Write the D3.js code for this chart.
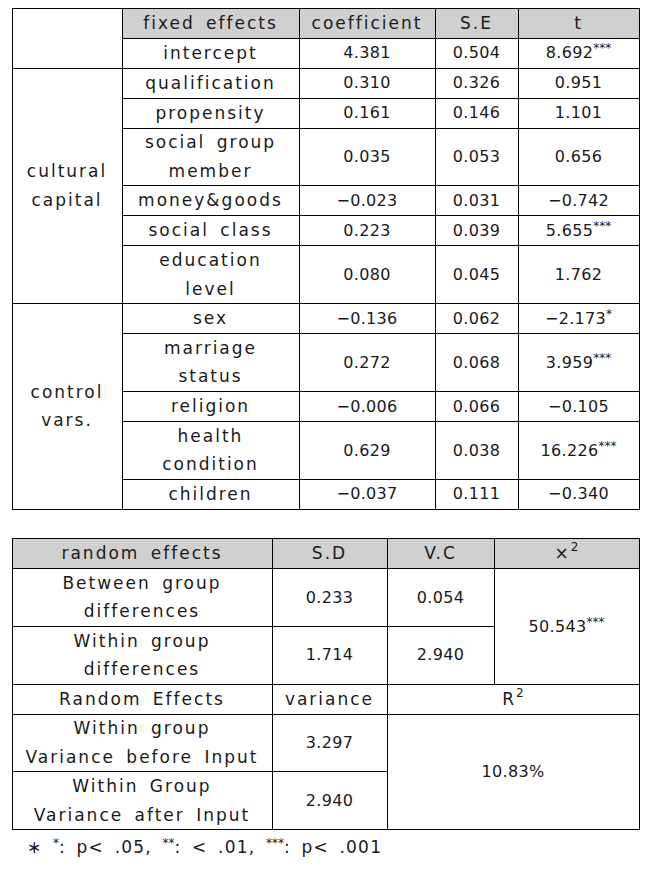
<!DOCTYPE html>
<html>
<head>
<meta charset="utf-8">
<script src="https://cdn.jsdelivr.net/npm/d3@7"></script>
<style>
    body { margin: 0; background: #fff; }
    svg text { font-family: "DejaVu Sans", sans-serif; fill: #1a1a1a; }
    .label { font-size: 17px; letter-spacing: 2px; word-spacing: 4px; }
    .num { font-size: 16px; letter-spacing: 0.3px; }
    .note { font-size: 17px; letter-spacing: 1.2px; word-spacing: 4px; }
    .sup { font-size: 12px; letter-spacing: 0; }
    .cell { fill: #fff; stroke: #000; stroke-width: 1; }
    .cell.head { fill: #d0d0d0; }
</style>
</head>
<body>
<script>
// ------------------------------------------
//  Data
// ------------------------------------------
const fixedHeaders = ["fixed effects", "coefficient", "S.E", "t"]
const fixedTerms = ["intercept", "qualification", "propensity", "social group\nmember", "money&goods",
    "social class", "education\nlevel", "sex", "marriage\nstatus", "religion", "health\ncondition", "children"]
const coefficients = [4.381, 0.310, 0.161, 0.035, -0.023, 0.223, 0.080, -0.136, 0.272, -0.006, 0.629, -0.037]
const stdErrors = [0.504, 0.326, 0.146, 0.053, 0.031, 0.039, 0.045, 0.062, 0.068, 0.066, 0.038, 0.111]
const tValues = [8.692, 0.951, 1.101, 0.656, -0.742, 5.655, 1.762, -2.173, 3.959, -0.105, 16.226, -0.340]
const tStars = ["***", "", "", "", "", "***", "", "*", "***", "", "***", ""]
const groupLabels = ["", "cultural\ncapital", "control\nvars."]
const groupSizes = [1, 6, 5]

const randomHeaders = ["random effects", "S.D", "V.C", "×"]
const randomTerms = ["Between group\ndifferences", "Within group\ndifferences"]
const randomSD = [0.233, 1.714]
const randomVC = [0.054, 2.940]
const chiSquare = 50.543
const chiStars = "***"

const varianceHeaders = ["Random Effects", "variance", "R"]
const varianceTerms = ["Within group\nVariance before Input", "Within Group\nVariance after Input"]
const varianceValues = [3.297, 2.940]
const rSquared = 0.1083

const footnote = [["∗ ", ""], ["*", "sup"], [": p< .05, ", ""], ["**", "sup"], [": < .01, ", ""], ["***", "sup"], [": p< .001", ""]]

// ------------------------------------------
//  Layout
// ------------------------------------------
const cols1 = [12, 122, 299, 435, 518, 639]
const cols2 = [12, 272, 387, 494, 639]
const top1 = 8, top2 = 538
const headH = 29.5, singleH = 30, doubleH = 57.8
const lineGap = 28.5
const fmt = d3.format(".3f")

const svg = d3.select("body").append("svg").attr("width", 653).attr("height", 873)
const px = v => Math.round(v) + 0.5

function cell(x0, x1, y0, y1, head) {
    svg.append("rect")
        .attr("class", head ? "cell head" : "cell")
        .attr("x", px(x0)).attr("y", px(y0))
        .attr("width", Math.round(x1) - Math.round(x0))
        .attr("height", Math.round(y1) - Math.round(y0))
}

function write(x0, x1, y0, y1, lines, cls, sup, supDy = -6) {
    const fs = cls === "num" ? 16 : 17
    const cy = (y0 + y1) / 2
    const first = cy - (lines.length - 1) * lineGap / 2 + 0.36 * fs
    const t = svg.append("text").attr("class", cls).attr("text-anchor", "middle")
    lines.forEach((s, i) => {
        t.append("tspan").attr("x", (x0 + x1) / 2).attr("y", first + i * lineGap).text(s)
    })
    if (sup) t.append("tspan").attr("class", "sup").attr("dy", supDy).text(sup)
}

// ------------------------------------------
//  Fixed effects table
// ------------------------------------------
const rowH1 = [headH, ...fixedTerms.map(s => s.includes("\n") ? doubleH : singleH)]
const y1 = [top1, ...d3.cumsum(rowH1).map(v => top1 + v)]

fixedHeaders.forEach((h, j) => {
    cell(cols1[j + 1], cols1[j + 2], y1[0], y1[1], true)
    write(cols1[j + 1], cols1[j + 2], y1[0], y1[1], [h], "label")
})

fixedTerms.forEach((term, i) => {
    const a = y1[i + 1], b = y1[i + 2]
    cell(cols1[1], cols1[2], a, b); write(cols1[1], cols1[2], a, b, term.split("\n"), "label")
    cell(cols1[2], cols1[3], a, b); write(cols1[2], cols1[3], a, b, [fmt(coefficients[i])], "num")
    cell(cols1[3], cols1[4], a, b); write(cols1[3], cols1[4], a, b, [fmt(stdErrors[i])], "num")
    cell(cols1[4], cols1[5], a, b); write(cols1[4], cols1[5], a, b, [fmt(tValues[i])], "num", tStars[i])
})

let start = 0
groupLabels.forEach((g, k) => {
    const end = start + groupSizes[k] + (k === 0 ? 1 : 0)
    cell(cols1[0], cols1[1], y1[start], y1[end])
    write(cols1[0], cols1[1], y1[start], y1[end], g ? g.split("\n") : [], "label")
    start = end
})

// ------------------------------------------
//  Random effects table
// ------------------------------------------
const rowH2 = [singleH, doubleH, doubleH, singleH, doubleH, doubleH]
const y2 = [top2, ...d3.cumsum(rowH2).map(v => top2 + v)]

randomHeaders.forEach((h, j) => {
    cell(cols2[j], cols2[j + 1], y2[0], y2[1], true)
    write(cols2[j], cols2[j + 1], y2[0], y2[1], [h], "label", j === 3 ? "2" : "", -8)
})

randomTerms.forEach((term, i) => {
    const a = y2[i + 1], b = y2[i + 2]
    cell(cols2[0], cols2[1], a, b); write(cols2[0], cols2[1], a, b, term.split("\n"), "label")
    cell(cols2[1], cols2[2], a, b); write(cols2[1], cols2[2], a, b, [fmt(randomSD[i])], "num")
    cell(cols2[2], cols2[3], a, b); write(cols2[2], cols2[3], a, b, [fmt(randomVC[i])], "num")
})
cell(cols2[3], cols2[4], y2[1], y2[3])
write(cols2[3], cols2[4], y2[1], y2[3], [fmt(chiSquare)], "num", chiStars)

cell(cols2[0], cols2[1], y2[3], y2[4]); write(cols2[0], cols2[1], y2[3], y2[4], [varianceHeaders[0]], "label")
cell(cols2[1], cols2[2], y2[3], y2[4]); write(cols2[1], cols2[2], y2[3], y2[4], [varianceHeaders[1]], "label")
cell(cols2[2], cols2[4], y2[3], y2[4]); write(cols2[2], cols2[4], y2[3], y2[4], [varianceHeaders[2]], "label", "2", -8)

varianceTerms.forEach((term, i) => {
    const a = y2[i + 4], b = y2[i + 5]
    cell(cols2[0], cols2[1], a, b); write(cols2[0], cols2[1], a, b, term.split("\n"), "label")
    cell(cols2[1], cols2[2], a, b); write(cols2[1], cols2[2], a, b, [fmt(varianceValues[i])], "num")
})
cell(cols2[2], cols2[4], y2[4], y2[6])
write(cols2[2], cols2[4], y2[4], y2[6], [d3.format(".2%")(rSquared)], "num")

// ------------------------------------------
//  Footnote
// ------------------------------------------
const note = svg.append("text").attr("class", "note").attr("x", 27).attr("y", 853)
footnote.forEach(([s, c], i) => {
    note.append("tspan").attr("class", c || null)
        .attr("dy", c ? -6 : (i === 0 ? 0 : 6))
        .text(s)
})
</script>
</body>
</html>
